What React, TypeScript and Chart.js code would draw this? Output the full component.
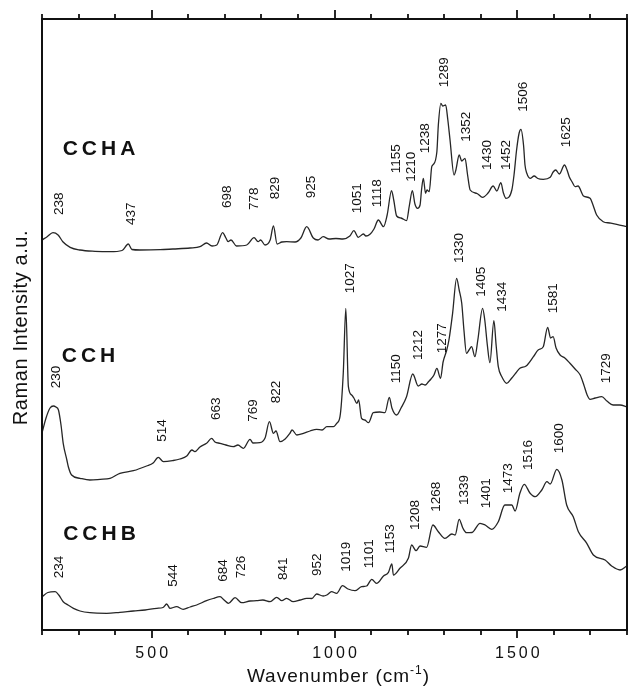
import React, { useEffect, useRef } from "react";
import { Chart, registerables } from "chart.js";

Chart.register(...registerables);

// ---------- Axis range / ticks ----------
const X_MIN = 200;
const X_MAX = 1800;
const X_STEP = 100;
const X_TICK_LABELS = [500, 1000, 1500];
const Y_MIN = 0;
const Y_MAX = 611;

// ---------- CCHA spectrum (wavenumber, intensity a.u.) ----------
const cchaWn = [200, 214, 230, 244, 257, 277, 304, 345, 386, 419, 436, 446, 468, 523, 558, 605, 632, 650, 665, 678, 694, 703, 709, 717, 732, 760, 780, 791, 798, 810, 824, 833, 843, 856, 869, 892, 908, 924, 942, 955, 969, 985, 1004, 1023, 1042, 1053, 1065, 1079, 1086, 1097, 1108, 1120, 1134, 1144, 1156, 1162, 1170, 1182, 1197, 1205, 1213, 1220, 1227, 1234, 1238, 1243, 1249, 1253, 1259, 1266, 1269, 1280, 1284, 1291, 1296, 1304, 1310, 1316, 1327, 1332, 1341, 1348, 1357, 1364, 1371, 1389, 1405, 1420, 1434, 1444, 1455, 1462, 1469, 1485, 1491, 1498, 1505, 1510, 1517, 1521, 1526, 1535, 1546, 1556, 1571, 1590, 1598, 1605, 1615, 1629, 1636, 1642, 1650, 1658, 1666, 1681, 1699, 1707, 1717, 1735, 1753, 1772, 1800];
const cchaInt = [390, 393.3, 397.3, 395, 388.3, 382.7, 380, 378.7, 378.3, 379.5, 386, 380.5, 380, 380.3, 381, 382, 383.3, 387, 384, 385, 397.3, 392, 388.3, 390, 384, 385, 392.3, 388.3, 390, 385, 390, 404, 386, 388, 388.3, 388, 392, 403.3, 392, 390, 393.3, 391, 391.5, 391, 394, 399.3, 392.7, 396, 394, 395.7, 401, 410, 403.3, 415, 439.3, 430, 414, 412, 409.3, 425, 439.3, 426, 421.7, 425, 440, 451.7, 436.7, 440, 438.3, 463.3, 465, 478.3, 505, 526.7, 524, 525, 510, 490, 455, 460, 475, 469, 471.7, 455, 440, 436.7, 432.7, 437, 444, 439, 447.3, 437, 431.7, 440, 455, 480, 497, 500.7, 485, 465, 456.7, 451.7, 454, 451.5, 450.7, 452.7, 458, 460, 456, 465, 460, 453.3, 448, 443.3, 444, 434, 431.7, 425, 415, 408.3, 407, 405.7, 403.3];

// ---------- CCH spectrum ----------
const cchWn = [200, 211, 222, 231, 238, 245, 252, 258, 268, 272, 281, 304, 331, 359, 386, 413, 450, 486, 504, 518, 532, 559, 577, 596, 610, 618, 632, 650, 664, 673, 687, 703, 723, 736, 751, 769, 777, 796, 810, 822, 833, 840, 851, 865, 878, 884, 897, 915, 933, 951, 966, 979, 997, 1006, 1015, 1024, 1031, 1038, 1047, 1053, 1061, 1066, 1074, 1083, 1093, 1106, 1124, 1138, 1150, 1157, 1170, 1182, 1197, 1214, 1229, 1239, 1248, 1257, 1264, 1272, 1280, 1290, 1297, 1307, 1313, 1323, 1334, 1341, 1348, 1354, 1361, 1368, 1375, 1384, 1392, 1405, 1411, 1418, 1425, 1436, 1442, 1448, 1458, 1471, 1485, 1496, 1507, 1524, 1544, 1557, 1571, 1583, 1591, 1598, 1606, 1617, 1630, 1644, 1658, 1672, 1682, 1691, 1699, 1713, 1731, 1745, 1762, 1781, 1800];
const cchInt = [197, 212, 222, 224, 223, 220, 205, 186.7, 170, 163.3, 155, 151.7, 150, 150.7, 151.7, 156.7, 159.3, 164, 167, 172.7, 168.3, 169.5, 171, 174, 180, 178.3, 183, 186.7, 191.7, 188, 186.7, 185, 183.3, 185, 181.7, 190.7, 187, 187.3, 192, 208.3, 196.7, 199, 188.3, 191, 196.7, 200, 195, 196.7, 199, 200.7, 200, 203.3, 203.3, 206.7, 213.3, 257, 321.7, 243.3, 235, 232, 226.7, 230, 211.7, 210, 207.3, 217.3, 218, 217.3, 232.7, 222, 215, 222, 233.3, 256, 244, 246, 245, 248.3, 251, 255, 261.7, 251.7, 268, 280, 290, 316.7, 351.7, 340, 326.7, 300, 276.7, 280, 283.3, 273.3, 290, 321.7, 310, 285, 267.3, 309.3, 285, 263.3, 253, 246.7, 252, 257, 261.7, 264, 273.3, 280, 283.3, 302.7, 292, 293.3, 282, 275, 272, 266.7, 261, 255, 245, 235, 230.7, 232, 233.3, 229, 225, 225, 223.3];

// ---------- CCHB spectrum ----------
const cchbWn = [200, 216, 236, 246, 258, 271, 286, 304, 331, 377, 413, 450, 482, 514, 531, 541, 550, 568, 586, 605, 623, 650, 668, 687, 698, 710, 728, 746, 769, 787, 804, 824, 842, 856, 869, 887, 906, 924, 938, 951, 969, 979, 992, 1006, 1022, 1037, 1056, 1074, 1088, 1102, 1115, 1134, 1147, 1157, 1161, 1179, 1202, 1211, 1223, 1234, 1252, 1269, 1284, 1302, 1321, 1330, 1341, 1351, 1361, 1376, 1398, 1412, 1430, 1448, 1466, 1485, 1494, 1507, 1519, 1535, 1549, 1567, 1581, 1590, 1608, 1622, 1635, 1653, 1667, 1690, 1708, 1740, 1758, 1781, 1800];
const cchbInt = [33, 37.5, 38.3, 35, 28.3, 25, 21.7, 19, 17.3, 16.7, 17.7, 19, 20, 21.7, 22.5, 26, 21.7, 23.3, 20.7, 23, 25, 29.3, 31.5, 33.3, 30, 26.7, 32.3, 27.3, 29, 29.3, 30, 28.3, 32.7, 29.3, 31.7, 28.3, 30, 31.7, 31.5, 36, 34, 35, 38.3, 36.7, 44.3, 41, 39.3, 43.3, 44, 50.7, 46.7, 54, 57.3, 66, 55, 61.7, 71.7, 85, 79.3, 84, 82.7, 105, 98.3, 91.7, 96, 95, 110.7, 102, 97.3, 97.5, 106.7, 105, 100.7, 108.3, 125, 125, 119, 136.7, 145.7, 136.7, 133.3, 140, 148.3, 146, 160.7, 150, 125, 113.3, 98.3, 86.7, 75, 70, 64, 60, 64.3];

// ---------- Peak annotations (text, anchor wavenumber, anchor intensity) ----------
const cchaPeakText = ["238", "437", "698", "778", "829", "925", "1051", "1118", "1155", "1210", "1238", "1289", "1352", "1430", "1452", "1506", "1625"];
const cchaPeakX = [244.6, 440.7, 703, 778, 835, 933, 1059, 1115, 1165, 1206, 1246, 1296, 1357, 1416, 1466, 1512, 1630];
const cchaPeakY = [415, 405, 422, 420, 430.7, 431.7, 416.7, 422.7, 456.7, 448.3, 476.7, 542.7, 488.3, 460, 460, 518.3, 482.7];

const cchPeakText = ["230", "514", "663", "769", "822", "1027", "1150", "1212", "1277", "1330", "1405", "1434", "1581", "1729"];
const cchPeakX = [235.6, 527, 673, 773.5, 837, 1040, 1165, 1225, 1293, 1338, 1398, 1457, 1594, 1740];
const cchPeakY = [241.7, 188.3, 210, 208.3, 226.7, 336.7, 246.7, 270, 276.7, 367, 333.3, 318.3, 316.7, 246.7];

const cchbPeakText = ["234", "544", "684", "726", "841", "952", "1019", "1101", "1153", "1208", "1268", "1339", "1401", "1473", "1516", "1600"];
const cchbPeakX = [244.6, 554.7, 691.5, 741.5, 855.6, 951, 1029, 1092, 1150, 1217, 1275, 1351, 1412, 1471, 1526, 1612];
const cchbPeakY = [51.7, 43.3, 48.3, 51.7, 50, 54, 58.3, 61.7, 76.7, 100, 118.3, 125, 121.7, 136.7, 160, 176.7];

// ---------- Sample names ----------
const sampleNames = ["CCHA", "CCH", "CCHB"];
const sampleNameX = [256.6, 254, 258];
const sampleNameY = [475, 268.3, 90];

const X_TITLE_MAIN = "Wavenumber (cm";
const X_TITLE_SUP = "-1";
const X_TITLE_END = ")";
const Y_TITLE = "Raman Intensity a.u.";

const FONT = '"Liberation Sans", Arial, Helvetica, sans-serif';
const LINE_COLOR = "#262626";
const INK = "#111";

function toPoints(xs: number[], ys: number[]) {
  return xs.map((x, i) => ({ x, y: ys[i] }));
}

const decorPlugin = {
  id: "decor",
  afterDatasetsDraw(chart: any) {
    const ctx: CanvasRenderingContext2D = chart.ctx;
    const xs = chart.scales.x;
    const ys = chart.scales.y;
    const { left, right, top, bottom } = chart.chartArea;
    ctx.save();

    // frame
    ctx.strokeStyle = INK;
    ctx.lineWidth = 2;
    ctx.strokeRect(left, top, right - left, bottom - top);

    // ticks (bottom outward, top outward)
    ctx.lineWidth = 1.8;
    for (let v = X_MIN; v <= X_MAX; v += X_STEP) {
      const px = Math.round(xs.getPixelForValue(v));
      const major = v % 500 === 0;
      ctx.beginPath();
      ctx.moveTo(px, bottom);
      ctx.lineTo(px, bottom + (major ? 8 : 5));
      ctx.moveTo(px, top);
      ctx.lineTo(px, top - (major ? 9 : 5));
      ctx.stroke();
    }

    // tick labels
    ctx.fillStyle = INK;
    ctx.font = `16px ${FONT}`;
    (ctx as any).letterSpacing = "3px";
    ctx.textAlign = "center";
    ctx.textBaseline = "alphabetic";
    X_TICK_LABELS.forEach((v) => {
      ctx.fillText(String(v), xs.getPixelForValue(v) + 1.5, bottom + 28);
    });

    // x title with superscript
    (ctx as any).letterSpacing = "1px";
    ctx.textAlign = "left";
    ctx.font = `19px ${FONT}`;
    const wMain = ctx.measureText(X_TITLE_MAIN).width;
    const wEnd = ctx.measureText(X_TITLE_END).width;
    ctx.font = `12px ${FONT}`;
    const wSup = ctx.measureText(X_TITLE_SUP).width;
    const total = wMain + wSup + wEnd;
    const cx = (left + right) / 2 + 4;
    let tx = cx - total / 2;
    const tyBase = bottom + 51.7;
    ctx.font = `19px ${FONT}`;
    ctx.fillText(X_TITLE_MAIN, tx, tyBase);
    tx += wMain;
    ctx.font = `12px ${FONT}`;
    ctx.fillText(X_TITLE_SUP, tx, tyBase - 8);
    tx += wSup;
    ctx.font = `19px ${FONT}`;
    ctx.fillText(X_TITLE_END, tx, tyBase);

    // y title
    ctx.save();
    ctx.translate(27, (top + bottom) / 2 + 3);
    ctx.rotate(-Math.PI / 2);
    ctx.textAlign = "center";
    (ctx as any).letterSpacing = "0.6px";
    ctx.font = `20px ${FONT}`;
    ctx.fillText(Y_TITLE, 0, 0);
    ctx.restore();

    // peak labels (rotated)
    (ctx as any).letterSpacing = "0px";
    const peakFont = 13.5;
    ctx.font = `${peakFont}px ${FONT}`;
    const drawPeaks = (texts: string[], px: number[], py: number[]) => {
      texts.forEach((t, i) => {
        const x = xs.getPixelForValue(px[i]);
        const y = ys.getPixelForValue(py[i]);
        ctx.save();
        ctx.translate(x + peakFont * 0.36, y);
        ctx.rotate(-Math.PI / 2);
        ctx.textAlign = "left";
        ctx.textBaseline = "alphabetic";
        ctx.fillText(t, 0, 0);
        ctx.restore();
      });
    };
    drawPeaks(cchaPeakText, cchaPeakX, cchaPeakY);
    drawPeaks(cchPeakText, cchPeakX, cchPeakY);
    drawPeaks(cchbPeakText, cchbPeakX, cchbPeakY);

    // sample names
    ctx.font = `bold 21px ${FONT}`;
    (ctx as any).letterSpacing = "4px";
    ctx.textAlign = "left";
    sampleNames.forEach((n, i) => {
      ctx.fillText(n, xs.getPixelForValue(sampleNameX[i]), ys.getPixelForValue(sampleNameY[i]));
    });

    ctx.restore();
  },
};

export default function App() {
  const canvasRef = useRef<HTMLCanvasElement | null>(null);

  useEffect(() => {
    document.body.style.margin = "0";
    const canvas = canvasRef.current;
    if (!canvas) return;
    const common = {
      borderColor: LINE_COLOR,
      borderWidth: 1.3,
      pointRadius: 0,
      cubicInterpolationMode: "monotone",
      fill: false,
    };
    const chart = new Chart(canvas, {
      type: "line",
      data: {
        datasets: [
          { label: "CCHA", data: toPoints(cchaWn, cchaInt), ...common },
          { label: "CCH", data: toPoints(cchWn, cchInt), ...common },
          { label: "CCHB", data: toPoints(cchbWn, cchbInt), ...common },
        ],
      },
      options: {
        animation: false,
        responsive: false,
        maintainAspectRatio: false,
        layout: { padding: { left: 42, top: 19, right: 1, bottom: 57 } },
        plugins: { legend: { display: false }, tooltip: { enabled: false } },
        scales: {
          x: { type: "linear", min: X_MIN, max: X_MAX, display: false },
          y: { type: "linear", min: Y_MIN, max: Y_MAX, display: false },
        },
      },
      plugins: [decorPlugin],
    } as any);
    return () => chart.destroy();
  }, []);

  return (
    <div style={{ width: 628, height: 687, background: "#fff" }}>
      <canvas ref={canvasRef} width={628} height={687} style={{ display: "block" }} />
    </div>
  );
}
